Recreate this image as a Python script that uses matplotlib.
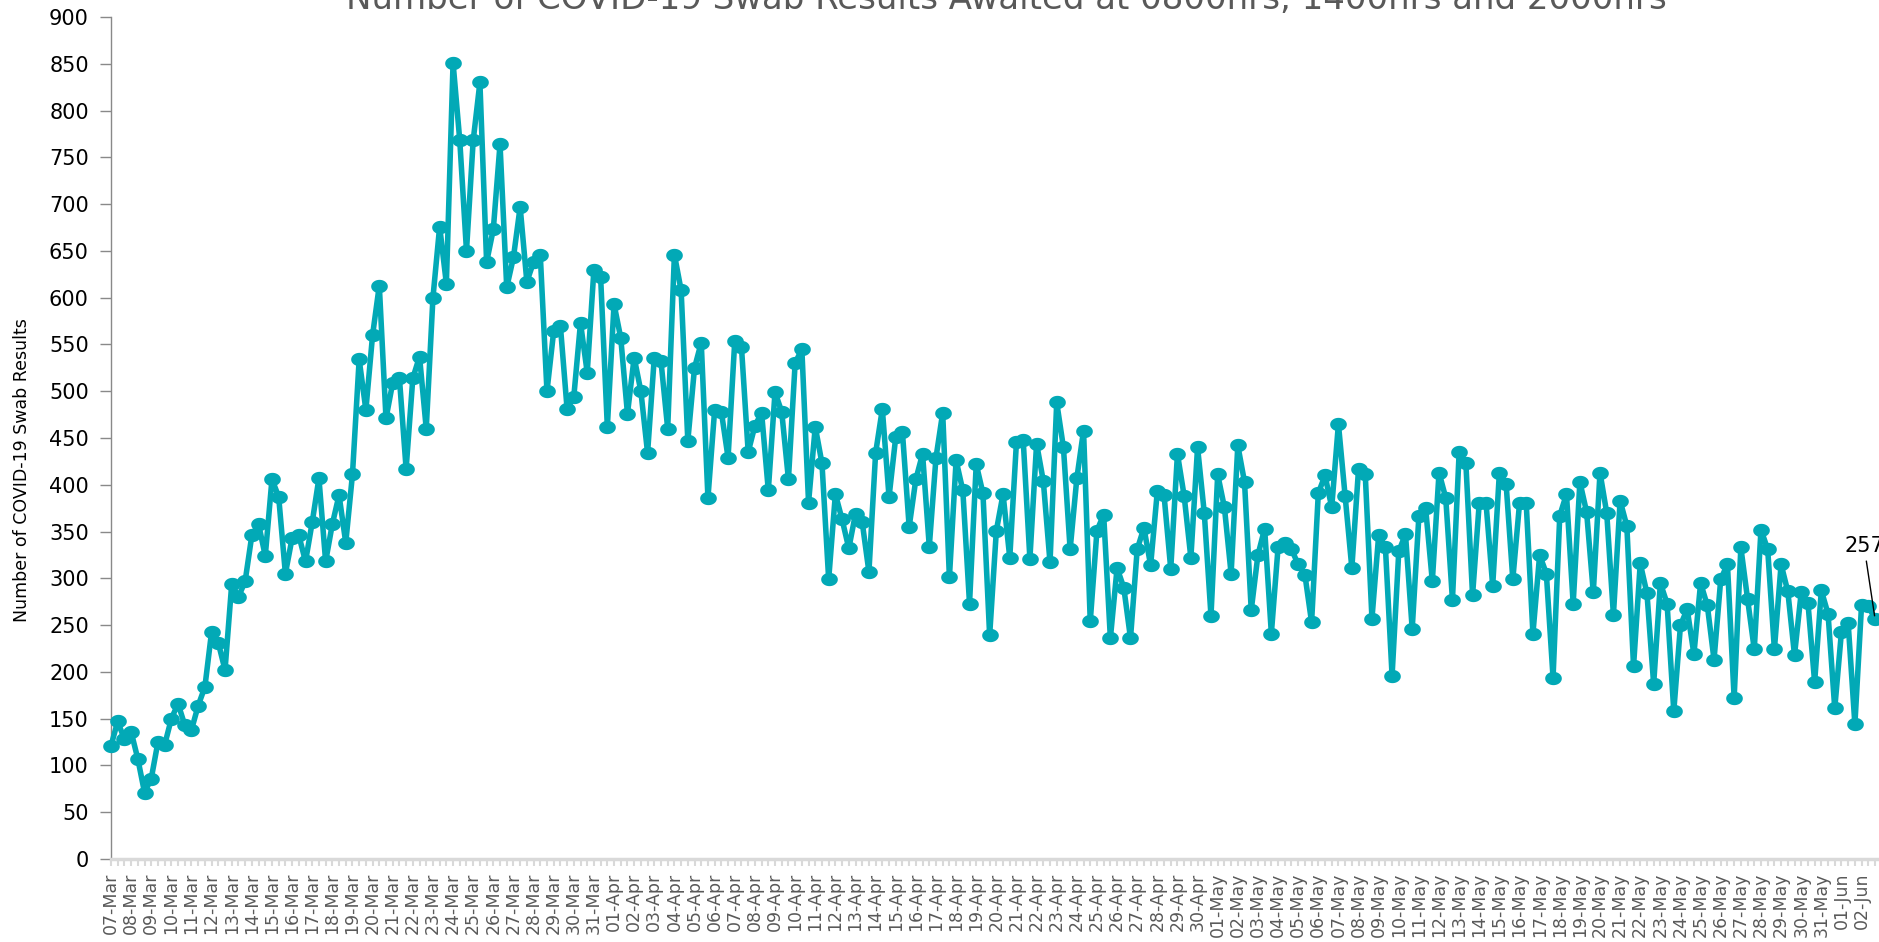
import matplotlib
matplotlib.use('Agg')
import matplotlib.pyplot as plt
from matplotlib.path import Path
import numpy as np
import pandas as pd

# swab results awaited, three readings a day (0800, 1400, 2000hrs)
march = [121, 147, 128, 136, 107, 71, 86, 125, 122, 150,
         166, 143, 138, 164, 184, 243, 231, 202, 294, 280,
         297, 346, 358, 324, 406, 387, 305, 343, 346, 318,
         360, 407, 318, 358, 389, 338, 411, 534, 480, 560,
         613, 471, 509, 514, 417, 514, 537, 460, 600, 676,
         615, 851, 768, 650, 768, 830, 638, 673, 764, 611,
         643, 697, 617, 638, 646, 500, 564, 570, 481, 494,
         573, 520, 630, 622, 462]
april = [593, 557, 476, 536, 500, 434, 536, 532, 460, 646,
         608, 447, 525, 552, 386, 480, 478, 429, 554, 547,
         435, 463, 477, 394, 499, 478, 406, 530, 545, 381,
         462, 423, 299, 390, 363, 332, 369, 360, 307, 434,
         481, 387, 451, 456, 355, 406, 433, 334, 429, 477,
         301, 426, 394, 273, 422, 391, 239, 351, 390, 322,
         446, 448, 321, 444, 404, 317, 488, 440, 331, 407,
         458, 254, 351, 368, 236, 311, 290, 236, 331, 354,
         314, 393, 389, 310, 433, 388, 322, 440, 370, 260]
may = [411, 376, 305, 442, 403, 266, 325, 353, 241, 333,
       338, 331, 315, 304, 253, 391, 410, 376, 465, 388,
       311, 417, 411, 257, 346, 334, 196, 329, 347, 246,
       367, 375, 297, 413, 386, 277, 435, 423, 282, 381,
       381, 292, 413, 401, 299, 380, 380, 241, 325, 305,
       194, 367, 390, 273, 403, 371, 285, 413, 370, 261,
       383, 356, 206, 316, 284, 187, 295, 273, 158, 250,
       267, 219, 295, 271, 213, 299, 315, 172, 333, 278,
       224, 352, 331, 224, 315, 286, 218, 285, 274, 189,
       287, 262, 161]
june = [243, 252, 144, 272, 270, 257]

days = pd.date_range('2020-03-07', '2020-06-02').strftime('%d-%b').tolist()
readings_per_day = 3

title = 'Number of COVID-19 Swab Results Awaited at 0800hrs, 1400hrs and 2000hrs'
ylabel = 'Number of COVID-19 Swab Results'

values = march + april + may + june
x = list(range(len(values)))
labels = [days[i // readings_per_day] if i % readings_per_day == 0 else ''
          for i in x]

plt.rcParams['font.family'] = 'DejaVu Sans'

W, H = 1879, 942
fig = plt.figure(figsize=(W / 100, H / 100), dpi=100)
ax = fig.add_axes([111 / W, (H - 859) / H, (W - 111) / W, (859 - 17) / H])

# markers in the screenshot are a little wider than tall
t_ = np.linspace(0, 2 * np.pi, 40)
ellipse = Path(np.column_stack([np.cos(t_), 0.8 * np.sin(t_)]))

teal = '#02A9B6'
ax.plot(x, values, color=teal, lw=4.0, marker=ellipse, markersize=12,
        markeredgewidth=0, clip_on=False, zorder=3)

ax.set_xlim(0, (len(values) - 1) * 1768 / 1764)
ax.set_ylim(0, 900)
ax.set_yticks(range(0, 901, 50))

ax.set_xticks(x)
ax.set_xticklabels(labels, rotation=90, fontsize=12.5, color='#595959')
ax.tick_params(axis='x', length=5, width=1.5, color='#D9D9D9', pad=5)
ax.tick_params(axis='y', length=8, width=1, color='#898989', pad=8,
               labelsize=15, labelcolor='black')

for side in ['top', 'right']:
    ax.spines[side].set_visible(False)
ax.spines['left'].set_color('#898989')
ax.spines['left'].set_linewidth(1)
ax.spines['bottom'].set_color('#D9D9D9')
ax.spines['bottom'].set_linewidth(2.5)

fig.text(22 / W, 1 - 470 / H, ylabel, rotation=90, ha='center', va='center',
         fontsize=12.5, color='black')

# title sits partly above the canvas, as in the screenshot
t = fig.text(1006.5 / W, 1 - 9 / H, title, ha='center', va='baseline',
             fontsize=22, color='#595959')
fig.canvas.draw()
w = t.get_window_extent().width
t.set_fontsize(22 * 1319 / w)

ax.annotate(str(values[-1]), xy=(x[-1], values[-1]),
            xytext=(-11, 73), textcoords='offset pixels',
            ha='center', va='center', fontsize=15, color='black',
            arrowprops=dict(arrowstyle='-', color='black', lw=1,
                            shrinkA=2, shrinkB=2))

fig.savefig('out.png', dpi=100)
